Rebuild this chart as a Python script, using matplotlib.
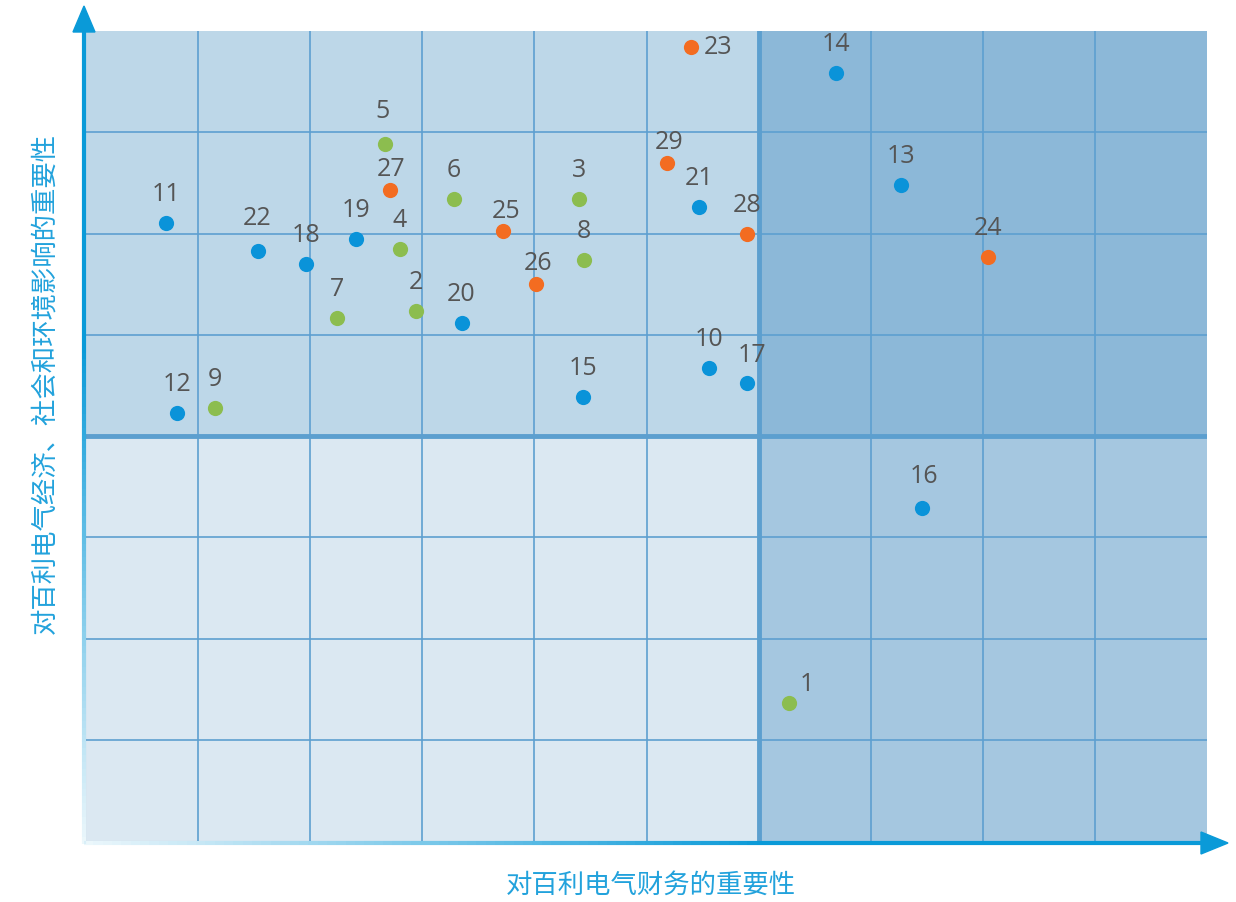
import matplotlib
matplotlib.use("Agg")
import matplotlib.pyplot as plt
import numpy as np
from matplotlib.collections import LineCollection
from matplotlib.patches import Rectangle, Polygon

plt.rcParams['font.family'] = ['Noto Sans CJK SC', 'DejaVu Sans']

# ---- data ----
ids = ['23', '14', '5', '29', '13', '27', '6', '3', '21', '11', '25', '28', '19', '4', '22',
       '24', '8', '18', '26', '2', '7', '20', '10', '17', '15', '9', '12', '16', '1']
fin = [5.40, 6.69, 2.67, 5.18, 7.27, 2.71, 3.28, 4.40, 5.47, 0.71, 3.72, 5.90, 2.41, 2.80, 1.53,
       8.05, 4.44, 1.96, 4.01, 2.94, 2.24, 3.35, 5.56, 5.90, 4.43, 1.15, 0.81, 7.46, 6.27]
imp = [7.84, 7.59, 6.88, 6.70, 6.48, 6.43, 6.34, 6.34, 6.26, 6.10, 6.02, 6.00, 5.95, 5.85, 5.83,
       5.77, 5.74, 5.70, 5.50, 5.23, 5.17, 5.12, 4.67, 4.52, 4.39, 4.28, 4.23, 3.29, 1.36]
group = ['o', 'b', 'g', 'o', 'b', 'o', 'g', 'g', 'b', 'b', 'o', 'o', 'b', 'g', 'b',
         'o', 'g', 'b', 'o', 'g', 'g', 'b', 'b', 'b', 'b', 'g', 'b', 'b', 'g']
xlabel = '对百利电气财务的重要性'
ylabel = '对百利电气经济、社会和环境影响的重要性'

colors = {'b': '#0a93d9', 'g': '#8cbd4f', 'o': '#f36c21'}

W, H = 1236, 902
fig = plt.figure(figsize=(W / 100, H / 100), dpi=100)
L, R, B, T = 86, 1207, 841, 31
ax = fig.add_axes([L / W, 1 - B / H, (R - L) / W, (B - T) / H])
ax.set_xlim(0, 10)
ax.set_ylim(0, 8)
ax.axis('off')

# quadrants
ax.add_patch(Rectangle((0, 4), 6, 4, color='#bdd7e8', zorder=0))
ax.add_patch(Rectangle((0, 0), 6, 4, color='#dbe8f2', zorder=0))
ax.add_patch(Rectangle((6, 4), 4, 4, color='#8cb8d8', zorder=0))
ax.add_patch(Rectangle((6, 0), 4, 4, color='#a5c7e0', zorder=0))

gc = '#5d9fd0'
for xv in range(1, 10):
    if xv != 6:
        ax.axvline(xv, color=gc, lw=1.2, zorder=1)
for yv in range(1, 8):
    if yv != 4:
        ax.axhline(yv, color=gc, lw=1.2, zorder=1)
ax.axvline(6, color='#5c9fcf', lw=3.5, zorder=2)
ax.axhline(4, color='#5c9fcf', lw=3.5, zorder=2)

for g in ['b', 'g', 'o']:
    xs = [f for f, gg in zip(fin, group) if gg == g]
    ys = [i for i, gg in zip(imp, group) if gg == g]
    ax.scatter(xs, ys, s=120, color=colors[g], zorder=5, linewidths=0)

special = {'23': (9, 0, 'left'), '1': (13, 13.5, 'center'),
           '27': (1, 14.5, 'center'), '25': (2, 14.5, 'center'),
           '26': (2, 14.5, 'center'), '29': (2, 14.5, 'center'),
           '5': (-2, 23.5, 'center'), '22': (0, 23, 'center'), '16': (1, 22.5, 'center'),
           '17': (3, 20, 'center')}
for lab, x, y in zip(ids, fin, imp):
    dx, dy, ha = special.get(lab, (0, 20.5, 'center'))
    ax.annotate(lab, (x, y), xytext=(dx, dy), textcoords='offset points',
                ha=ha, va='center', fontsize=18, color='#555555',
                family=['Open Sans', 'DejaVu Sans'], zorder=6)

# overlay in pixel coords for axis arrows
ov = fig.add_axes([0, 0, 1, 1])
ov.set_xlim(0, W)
ov.set_ylim(H, 0)
ov.axis('off')
ov.patch.set_alpha(0)

acol = np.array(matplotlib.colors.to_rgba('#0a9ad8'))
n = 120
al = np.clip(np.linspace(0.05, 1.0, n) * 1.6, 0, 1)
cols = [(*acol[:3], a) for a in al]
# y axis (fade at bottom)
ys_ = np.linspace(844, 25, n + 1)
segs = [[(84, ys_[i]), (84, ys_[i + 1])] for i in range(n)]
ov.add_collection(LineCollection(segs, colors=cols, linewidths=3.0, capstyle='butt'))
ov.add_patch(Polygon([(84, 6), (73, 32), (95, 32)], closed=True, color='#0a9ad8'))
# x axis (fade at left)
xs_ = np.linspace(84, 1205, n + 1)
segs = [[(xs_[i], 843), (xs_[i + 1], 843)] for i in range(n)]
ov.add_collection(LineCollection(segs, colors=cols, linewidths=3.0, capstyle='butt'))
ov.add_patch(Polygon([(1228, 843), (1201, 832), (1201, 854)], closed=True, color='#0a9ad8'))

ov.text(651, 885, xlabel, ha='center', va='center', fontsize=19, color='#22a2dc')
ov.text(45, 383, ylabel, ha='center', va='center', rotation=90, fontsize=19, color='#22a2dc')

fig.savefig('out.png', dpi=100)
